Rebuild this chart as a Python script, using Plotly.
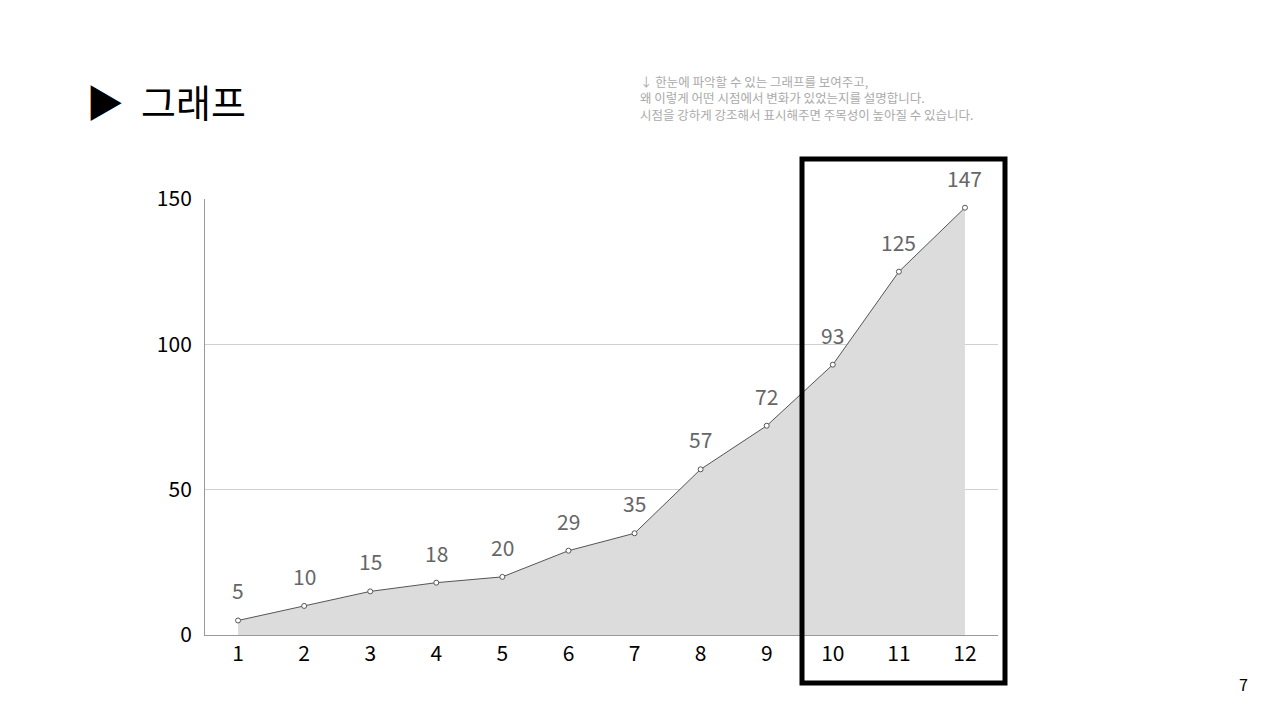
import plotly.graph_objects as go

months = list(range(1, 13))
values = [5, 10, 15, 18, 20, 29, 35, 57, 72, 93, 125, 147]
y_ticks = [0, 50, 100, 150]

F = "Noto Sans CJK KR"
fig = go.Figure()
fig.add_trace(go.Scatter(
    x=months, y=values, mode="lines+markers", fill="tozeroy",
    fillcolor="#dcdcdc", line=dict(color="#555555", width=1),
    marker=dict(size=5, color="white", line=dict(color="#555555", width=1)),
    cliponaxis=False, hoverinfo="skip"))
for m, v in zip(months, values):
    fig.add_annotation(x=m, y=v, text=str(v), showarrow=False, yanchor="middle",
                       yshift=30, font=dict(family=F, size=21, color="#666666"))

fig.update_layout(
    width=1280, height=720, paper_bgcolor="white", plot_bgcolor="white",
    margin=dict(l=197, r=290, t=191, b=93), showlegend=False,
    font=dict(family=F),
    xaxis=dict(range=[0.5, 12.5], tickvals=months, showgrid=False,
               showline=True, linecolor="#999999", linewidth=1,
               tickfont=dict(size=21, color="black"), ticks="", fixedrange=True),
    yaxis=dict(range=[0, 150], tickvals=y_ticks, showgrid=True, gridcolor="#d0d0d0",
               showline=True, linecolor="#999999", linewidth=1, zeroline=False,
               tickfont=dict(size=21, color="black"), ticks="", ticklabelstandoff=8),
)
fig.add_shape(type="rect", xref="paper", yref="paper",
              x0=(802 - 205) / 793, x1=(1005 - 205) / 793,
              y0=(635 - 683) / 436, y1=(635 - 159) / 436,
              line=dict(color="black", width=5))
fig.add_annotation(xref="paper", yref="paper", x=(84 - 205) / 793, y=(635 - 101) / 436,
                   xanchor="left", yanchor="middle", showarrow=False,
                   text="▶  그래프", font=dict(family=F, size=38, color="black"))
fig.add_annotation(xref="paper", yref="paper", x=(638 - 205) / 793, y=(635 - 98) / 436,
                   xanchor="left", yanchor="middle", showarrow=False, align="left",
                   text="↓ 한눈에 파악할 수 있는 그래프를 보여주고,<br>왜 이렇게 어떤 시점에서 변화가 있었는지를 설명합니다.<br>시점을 강하게 강조해서 표시해주면 주목성이 높아질 수 있습니다.",
                   font=dict(family=F, size=12.5, color="#aaaaaa"))
fig.add_annotation(xref="paper", yref="paper", x=(1243 - 205) / 793, y=(635 - 684) / 436,
                   xanchor="center", yanchor="middle", showarrow=False,
                   text="7", font=dict(family=F, size=16, color="black"))
fig.write_html("out.html")
